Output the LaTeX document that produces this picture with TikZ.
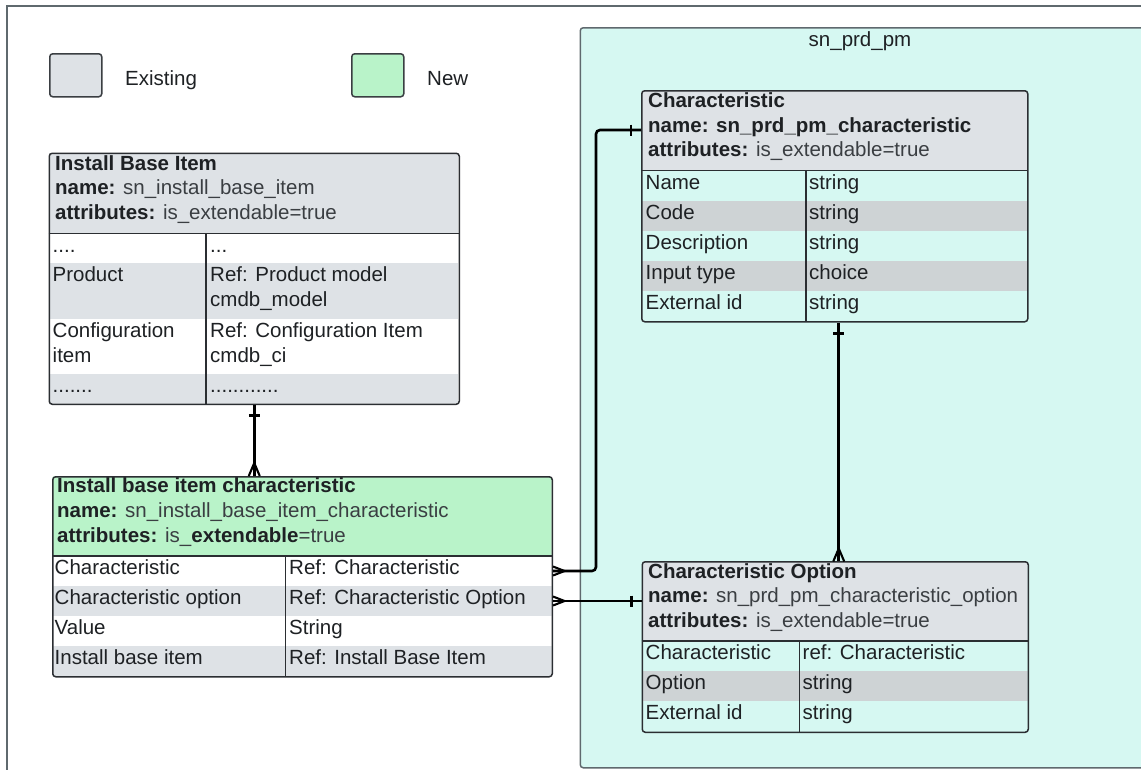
\documentclass[tikz,border=0pt]{standalone}
\usepackage{fontspec}
\setmainfont{Liberation Sans}
\usetikzlibrary{calc}

\definecolor{hdgray}{HTML}{DEE2E6}
\definecolor{rowgray}{HTML}{CED3D5}
\definecolor{newgreen}{HTML}{B9F3C9}
\definecolor{pkgcyan}{HTML}{D6F8F2}
\definecolor{pkgline}{HTML}{5F696E}
\definecolor{boxline}{HTML}{2B2E32}
\definecolor{inkc}{HTML}{1E2124}
\definecolor{softink}{HTML}{3A3E42}

\tikzset{
  txt/.style={anchor=base west, inner sep=0pt, text=inkc,
              font=\fontsize{20.5}{24.5}\selectfont},
  soft/.style={txt, text=softink},
  entbox/.style={draw=boxline, line width=1.5pt, rounded corners=3pt,
                 anchor=north west, inner sep=0pt},
  grid/.style={draw=boxline, line width=1.5pt},
  legendbox/.style={draw=softink, line width=1.5pt, rounded corners=3pt,
                    anchor=north west, inner sep=0pt,
                    minimum width=52pt, minimum height=43pt},
  conn/.style={draw=black, line width=2.6pt},
  foot/.style={draw=black, line width=2.1pt},
  crowS/.pic={\draw[foot] (0,0) -- (-5.5,13) (0,0) -- (5.5,13);},
  crowW/.pic={\draw[foot] (0,0) -- (-11.5,-4.5) (0,0) -- (-11.5,4.5);},
  barH/.pic={\draw[foot] (-5.5,0) -- (5.5,0);},
  barV/.pic={\draw[foot] (0,-5.5) -- (0,5.5);},
}

\begin{document}
\begin{tikzpicture}[x=1pt,y=-1pt]
\useasboundingbox (0,0) rectangle (1141,769);
\fill[white] (0,0) rectangle (1141,769);

% page frame
\draw[pkgline, line width=1.5pt] (7,800) -- (7,6) -- (1160,6);

% legend
\node[legendbox, fill=hdgray] (legold) at (49,53) {};
\node[txt] (legoldtxt) at (125,85) {Existing};
\node[legendbox, fill=newgreen] (legnew) at (351,53) {};
\node[txt] (legnewtxt) at (427,85) {New};

% package sn_prd_pm
\node[draw=pkgline, fill=pkgcyan, line width=1.5pt, rounded corners=3pt,
      anchor=north west, inner sep=0pt, minimum width=600pt, minimum height=740pt]
      (pkg) at (579.5,27) {};
\node[anchor=base, inner sep=0pt, text=inkc, font=\fontsize{20.5}{24.5}\selectfont]
      (pkgtitle) at (860,46.5) {sn\_prd\_pm};

% ---------- Install Base Item ----------
\begin{scope}
  \clip[rounded corners=3pt] (48.5,152.5) rectangle (458.5,403.5);
  \fill[white] (48.5,152.5) rectangle (458.5,403.5);
  \fill[hdgray] (48.5,152.5) rectangle (458.5,233.5);
  \fill[hdgray] (48.5,263) rectangle (458.5,319);
  \fill[hdgray] (48.5,373.5) rectangle (458.5,403.5);
\end{scope}
\draw[grid] (48.5,233.5) -- (458.5,233.5) (206,233.5) -- (206,403.5);
\node[entbox, minimum width=410pt, minimum height=251pt] (ibi) at (48.5,152.5) {};
\node[txt] (ibih1) at (55,170) {\textbf{Install Base Item}};
\node[soft] (ibih2) at (55,194.5) {\textbf{\color{inkc}name:} sn\_install\_base\_item};
\node[soft] (ibih3) at (55,219) {\textbf{\color{inkc}attributes:} is\_extendable=true};
\node[txt] (ibia1) at (52.5,252) {....};
\node[txt] (ibib1) at (210,252) {...};
\node[txt] (ibia2) at (52.5,281.5) {Product};
\node[txt] (ibib2) at (210,281.5) {Ref: Product model};
\node[txt] (ibib2b) at (210,306) {cmdb\_model};
\node[txt] (ibia3) at (52.5,337.5) {Configuration};
\node[txt] (ibia3b) at (52.5,362) {item};
\node[txt] (ibib3) at (210,337.5) {Ref: Configuration Item};
\node[txt] (ibib3b) at (210,362) {cmdb\_ci};
\node[txt] (ibia4) at (52.5,392) {.......};
\node[txt] (ibib4) at (210,392) {............};

% ---------- Install base item characteristic ----------
\begin{scope}
  \clip[rounded corners=3pt] (52,476) rectangle (551.5,676);
  \fill[white] (52,476) rectangle (551.5,676);
  \fill[newgreen] (52,476) rectangle (551.5,556);
  \fill[hdgray] (52,586) rectangle (551.5,616);
  \fill[hdgray] (52,646) rectangle (551.5,676);
\end{scope}
\draw[grid] (52,556) -- (551.5,556) (285.7,556) -- (285.7,676);
\node[entbox, minimum width=499.5pt, minimum height=200pt] (ibic) at (52,476) {};
\node[txt] (ibich1) at (57,492.5) {\textbf{Install base item characteristic}};
\node[soft] (ibich2) at (57,517) {\textbf{\color{inkc}name:} sn\_install\_base\_item\_characteristic};
\node[soft] (ibich3) at (57,542) {\textbf{\color{inkc}attributes:} is\_\textbf{\color{inkc}extendable}=true};
\node[txt] (ibica1) at (54.5,574.5) {Characteristic};
\node[txt] (ibicb1) at (289,574.5) {Ref: Characteristic};
\node[txt] (ibica2) at (54.5,604.5) {Characteristic option};
\node[txt] (ibicb2) at (289,604.5) {Ref: Characteristic Option};
\node[txt] (ibica3) at (54.5,634.5) {Value};
\node[txt] (ibicb3) at (289,634.5) {String};
\node[txt] (ibica4) at (54.5,664.5) {Install base item};
\node[txt] (ibicb4) at (289,664.5) {Ref: Install Base Item};

% ---------- Characteristic ----------
\begin{scope}
  \clip[rounded corners=3pt] (641,90) rectangle (1027,321);
  \fill[hdgray] (641,90) rectangle (1027,170.5);
  \fill[rowgray] (641,200.6) rectangle (1027,230.7);
  \fill[rowgray] (641,260.8) rectangle (1027,290.9);
\end{scope}
\draw[grid] (641,170.5) -- (1027,170.5) (806,170.5) -- (806,321);
\node[entbox, minimum width=386pt, minimum height=231pt] (char) at (641,90) {};
\node[txt] (charh1) at (648,107.5) {\textbf{Characteristic}};
\node[txt] (charh2) at (648,132) {\textbf{name: sn\_prd\_pm\_characteristic}};
\node[soft] (charh3) at (648,156.5) {\textbf{\color{inkc}attributes:} is\_extendable=true};
\node[txt] (chara1) at (645.5,189) {Name};
\node[txt] (charb1) at (809,189) {string};
\node[txt] (chara2) at (645.5,219.1) {Code};
\node[txt] (charb2) at (809,219.1) {string};
\node[txt] (chara3) at (645.5,249.2) {Description};
\node[txt] (charb3) at (809,249.2) {string};
\node[txt] (chara4) at (645.5,279.3) {Input type};
\node[txt] (charb4) at (809,279.3) {choice};
\node[txt] (chara5) at (645.5,309.4) {External id};
\node[txt] (charb5) at (809,309.4) {string};

% ---------- Characteristic Option ----------
\begin{scope}
  \clip[rounded corners=3pt] (641.5,561) rectangle (1027.5,731.5);
  \fill[hdgray] (641.5,561) rectangle (1027.5,641);
  \fill[rowgray] (641.5,671) rectangle (1027.5,701.3);
\end{scope}
\draw[grid] (641.5,641) -- (1027.5,641) (799.5,641) -- (799.5,731.5);
\node[entbox, minimum width=386pt, minimum height=170.5pt] (charopt) at (641.5,561) {};
\node[txt] (opth1) at (648,578) {\textbf{Characteristic Option}};
\node[soft] (opth2) at (648,602.5) {\textbf{\color{inkc}name:} sn\_prd\_pm\_characteristic\_option};
\node[soft] (opth3) at (648,627) {\textbf{\color{inkc}attributes:} is\_extendable=true};
\node[txt] (opta1) at (645.5,659.5) {Characteristic};
\node[txt] (optb1) at (802.5,659.5) {ref: Characteristic};
\node[txt] (opta2) at (645.5,689.7) {Option};
\node[txt] (optb2) at (802.5,689.7) {string};
\node[txt] (opta3) at (645.5,719.9) {External id};
\node[txt] (optb3) at (802.5,719.9) {string};

% ---------- relationships ----------
% Install Base Item 1 -- * Install base item characteristic
\coordinate (ibiEnd) at (ibi.south |- ibic.north);
\draw[conn] (ibi.south) -- (ibiEnd);
\pic at ($(ibi.south)+(0,10.5)$) {barH};
\pic at ($(ibiEnd)+(0,-13)$) {crowS};

% Characteristic 1 -- * Install base item characteristic (Characteristic row)
\coordinate (charPort) at ($(char.north west)+(0,40)$);
\coordinate (ibicRow1) at ($(ibic.north east)+(0,95)$);
\draw[conn, rounded corners=4pt] (charPort) -- ++(-45,0) |- (ibicRow1);
\pic at ($(charPort)+(-10,0)$) {barV};
\pic at ($(ibicRow1)+(11.5,0)$) {crowW};

% Characteristic Option 1 -- * Install base item characteristic (option row)
\coordinate (ibicRow2) at ($(ibic.north east)+(0,125)$);
\coordinate (optPort) at (ibicRow2 -| charopt.west);
\draw[conn] (ibicRow2) -- (optPort);
\pic at ($(optPort)+(-10,0)$) {barV};
\pic at ($(ibicRow2)+(11.5,0)$) {crowW};

% Characteristic 1 -- * Characteristic Option
\coordinate (charDown) at ($(char.south)+(4,0)$);
\coordinate (optTop) at (charDown |- charopt.north);
\draw[conn] (charDown) -- (optTop);
\pic at ($(charDown)+(0,11)$) {barH};
\pic at ($(optTop)+(0,-12.5)$) {crowS};
\end{tikzpicture}
\end{document}
